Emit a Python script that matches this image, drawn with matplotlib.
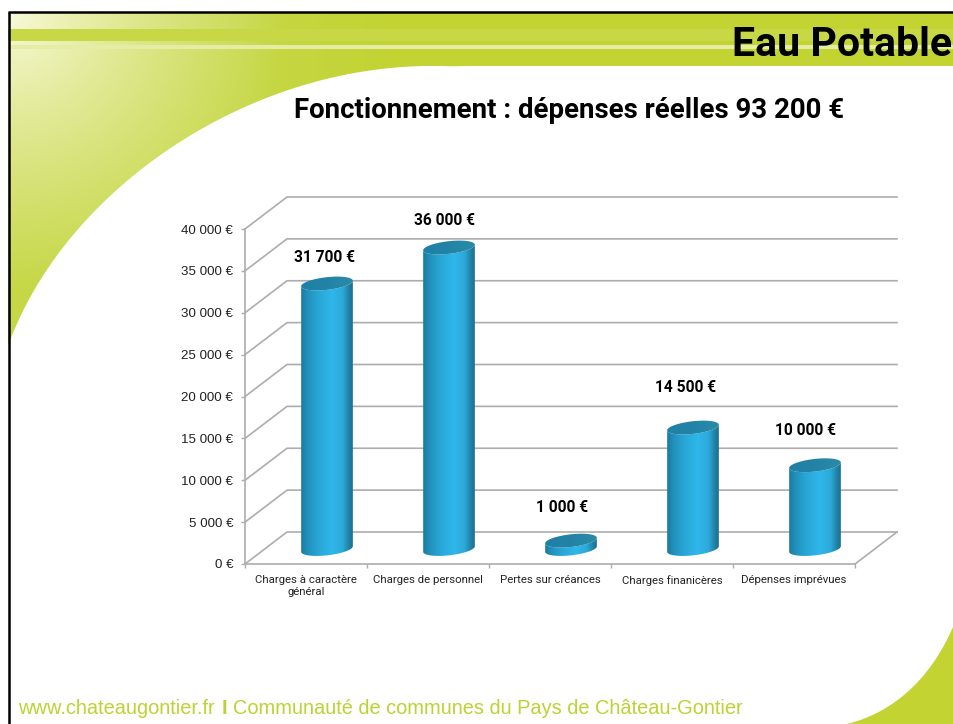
import numpy as np
import matplotlib
matplotlib.use('Agg')
import matplotlib.pyplot as plt
from matplotlib.path import Path
from matplotlib.patches import PathPatch, Polygon
from matplotlib.colors import LinearSegmentedColormap
from matplotlib.ticker import FuncFormatter

plt.rcParams['font.family'] = ['Roboto', 'Liberation Sans', 'DejaVu Sans']
ARIAL = ['Liberation Sans', 'DejaVu Sans']

W, H = 954, 724

categories = ['Charges à caractère\ngénéral', 'Charges de personnel', 'Pertes sur créances',
              'Charges finanicères', 'Dépenses imprévues']
values = [31700, 36000, 1000, 14500, 10000]
value_labels = ['31 700 €', '36 000 €', '1 000 €', '14 500 €', '10 000 €']
y_ticks = [0, 5000, 10000, 15000, 20000, 25000, 30000, 35000, 40000]

title = 'Fonctionnement : dépenses réelles 93 200 €'
header = 'Eau Potable'
footer_left = 'www.chateaugontier.fr'
footer_right = 'Communauté de communes du Pays de Château-Gontier'

# label offsets from the bar top, pixels
label_dx = [-2, -4, -9, -7, -9]
label_dy = [-41, -42, -48, -55, -50]

GREEN = np.array([194, 211, 50]) / 255
GRID = '#ADADAD'

fig = plt.figure(figsize=(W / 100, H / 100), dpi=100, facecolor='white')

# slide background, pixel coords
bg = fig.add_axes([0, 0, 1, 1], zorder=0)
bg.set_xlim(0, W)
bg.set_ylim(H, 0)
bg.axis('off')

yy, xx = np.mgrid[0:H, 0:W]
dist = np.hypot(xx - 10, yy - 14)
fade = np.clip(dist / 275, 0, 1) ** 0.8
light = np.array([250, 250, 222]) / 255
far = np.array([198, 215, 70]) / 255
img = light + (far - light) * fade[..., None]
# right part of the header is the flat green
hfade = np.clip((xx - 250) / 150, 0, 1)[..., None]
img = img + (GREEN - img) * hfade
# header stripes
img[29:41] = np.array([199, 215, 70]) / 255
img[45:49] = np.array([229, 236, 165]) / 255
bg.imshow(img, extent=(0, W, H, 0), aspect='auto', zorder=1, interpolation='bilinear')

# white slide body, big curve is a smooth fit through points
cx_pts = np.array([8, 33, 57, 90, 133, 180, 227, 300, 363, 413, 450])
cy_pts = np.array([346, 293, 253, 217, 177, 142, 114, 87, 71, 67, 66])
s = np.r_[0, np.cumsum(np.hypot(np.diff(cx_pts), np.diff(cy_pts)))]
s_new = np.linspace(0, s[-1], 120)
curve_x = np.polyval(np.polyfit(s, cx_pts, 4), s_new)
curve_y = np.polyval(np.polyfit(s, cy_pts, 4), s_new)
verts = list(zip(curve_x, curve_y)) + [(470, 66), (W + 2, 66), (W + 2, 620), (930, 685), (885, 718),
                                       (837, H + 2), (8, H + 2), (curve_x[0], curve_y[0])]
codes = [Path.MOVETO] + [Path.LINETO] * 121 + [Path.LINETO, Path.CURVE4, Path.CURVE4, Path.CURVE4,
                                               Path.LINETO, Path.CLOSEPOLY]
bg.add_patch(PathPatch(Path(verts, codes), facecolor='white', edgecolor='none', zorder=2))

# outside the frame and the frame itself
bg.fill_between([0, W], 0, 12, color='white', zorder=3, lw=0)
bg.fill_between([0, 8], 0, H, color='white', zorder=3, lw=0)
bg.plot([8.5, W], [12.3, 12.3], color='black', lw=1.8, zorder=4, solid_capstyle='butt')
bg.plot([8.8, 8.8], [12, H], color='black', lw=1.8, zorder=4, solid_capstyle='butt')

# chart axes: front plane of the 3d box
left, right, top, bottom = 245, 855, 229, 564
ax = fig.add_axes([left / W, 1 - bottom / H, (right - left) / W, (bottom - top) / H], zorder=1)
ax.set_xlim(0, len(categories))
ax.set_ylim(0, 40000)
ax.patch.set_alpha(0)
for sp in ['top', 'right']:
    ax.spines[sp].set_visible(False)
for sp in ['left', 'bottom']:
    ax.spines[sp].set_color(GRID)
    ax.spines[sp].set_linewidth(1.2)
ax.set_yticks(y_ticks)
ax.yaxis.set_major_formatter(FuncFormatter(lambda v, p: f'{int(v):,}'.replace(',', ' ') + ' €'))
ax.tick_params(axis='y', length=3, width=1, color=GRID, labelsize=9.6, labelcolor='#222222', pad=5.5)
for t in ax.get_yticklabels():
    t.set_family(ARIAL)
ax.set_xticks(np.arange(len(categories) + 1))
ax.set_xticklabels([])
ax.tick_params(axis='x', which='major', length=3, width=1, color=GRID)
ax.set_xticks(np.arange(len(categories)) + 0.5, categories, minor=True)
ax.tick_params(axis='x', which='minor', length=0, labelsize=8.2, labelcolor='#222222', pad=8)
for t in ax.get_xticklabels(minor=True):
    t.set_linespacing(1.25)

# overlay in pixel coords for the 3d bits
pix = fig.add_axes([0, 0, 1, 1], zorder=2)
pix.set_xlim(0, W)
pix.set_ylim(H, 0)
pix.axis('off')
pix.patch.set_alpha(0)


def to_px(x, v):
    d = ax.transData.transform((x, v))
    return pix.transData.inverted().transform(d)


DEPTH_X, DEPTH_Y = 42, -32

# walls
for v in y_ticks:
    x0, y0 = to_px(0, v)
    x1, y1 = to_px(len(categories), v)
    pix.plot([x0, x0 + DEPTH_X, x1 + DEPTH_X], [y0, y0 + DEPTH_Y, y0 + DEPTH_Y], color=GRID, lw=1.2, zorder=1)
x1, y1 = to_px(len(categories), 0)
pix.plot([x1, x1 + DEPTH_X], [y1, y1 + DEPTH_Y], color=GRID, lw=1.2, zorder=1)

# cylinders
cyl_cmap = LinearSegmentedColormap.from_list('cyl', [(0, '#1B7AA0'), (0.12, '#2190BB'), (0.35, '#29A8D8'),
                                                     (0.6, '#2FB6EA'), (0.8, '#2CAAD9'), (0.92, '#2283A8'),
                                                     (1, '#1C6F8F')])
top_cmap = LinearSegmentedColormap.from_list('captop', ['#1F80A8', '#2383A6', '#2A8BA8'])
A, B = 26, 6.3
TILT = np.radians(-6.5)


def ell(cx, cy, t):
    ex, ey = A * np.cos(t), B * np.sin(t)
    return cx + ex * np.cos(TILT) - ey * np.sin(TILT), cy + ex * np.sin(TILT) + ey * np.cos(TILT)


for i, v in enumerate(values):
    fx, fy = to_px(i + 0.5, v)
    bx, by = to_px(i + 0.5, 0)
    cx = fx + 21
    cy_top = fy - 15
    cy_base = by - 15

    t = np.linspace(np.pi, 0, 60)
    xb, yb = ell(cx, cy_base, t)
    xt, yt = ell(cx, cy_top, t[::-1])
    outline = np.column_stack([np.r_[xb, xt], np.r_[yb, yt]])
    poly = Polygon(outline, closed=True, facecolor='none', edgecolor='none', zorder=3)
    pix.add_patch(poly)
    grad = np.linspace(0, 1, 128).reshape(1, -1)
    im = pix.imshow(grad, cmap=cyl_cmap, extent=(cx - A, cx + A, cy_base + 10, cy_top - 10),
                    aspect='auto', zorder=3)
    im.set_clip_path(poly)

    t = np.linspace(0, 2 * np.pi, 80)
    xc, yc = ell(cx, cy_top, t)
    cap = Polygon(np.column_stack([xc, yc]), closed=True, facecolor='none', edgecolor='none', zorder=4)
    pix.add_patch(cap)
    im2 = pix.imshow(grad, cmap=top_cmap, extent=(cx - A, cx + A, cy_top + 9, cy_top - 9), aspect='auto', zorder=4)
    im2.set_clip_path(cap)

    pix.text(cx + label_dx[i], fy + label_dy[i], value_labels[i], ha='center', va='center',
             fontsize=11.2, fontweight='bold', color='black', zorder=6)

pix.set_xlim(0, W)
pix.set_ylim(H, 0)

# slide text
pix.text(952, 45, header, ha='right', va='center', fontsize=29.5, fontweight='bold', color='black', zorder=6)
pix.text(569, 111, title, ha='center', va='center', fontsize=19.9, fontweight='bold', color='black', zorder=6)
foot = '#BCD334'
pix.text(18, 709, footer_left, ha='left', va='center', fontsize=14.4, color=foot, family=ARIAL, zorder=6)
pix.text(222, 709, 'I', ha='left', va='center', fontsize=14.4, fontweight='bold', color=foot, family=ARIAL, zorder=6)
pix.text(233, 709, footer_right, ha='left', va='center', fontsize=14.45, color=foot, family=ARIAL, zorder=6)

fig.savefig('out.png', dpi=100)
